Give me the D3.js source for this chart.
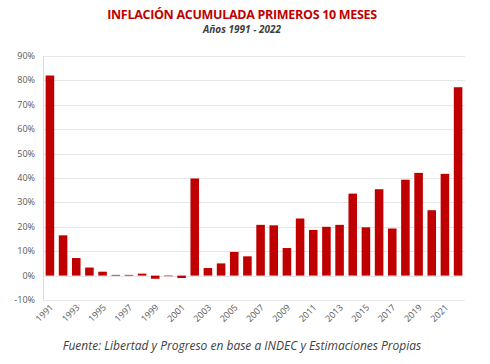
<!DOCTYPE html>
<html>
<head>
<meta charset="utf-8">
<script src="https://d3js.org/d3.v7.min.js"></script>
<style>
  body { margin: 0; background: #fff; }
  text { font-family: "Open Sans", sans-serif; }
</style>
</head>
<body>
<div id="chart"></div>
<script type="text/javascript">
var years = d3.range(1991, 2023).map(String);
var values = [82.0, 16.5, 7.2, 3.3, 1.6, 0.3, 0.3, 0.8, -1.3, -0.1, -1.0, 39.8,
              3.1, 5.0, 9.7, 7.9, 20.8, 20.6, 11.3, 23.4, 18.7, 20.0, 20.8, 33.6,
              19.8, 35.4, 19.3, 39.3, 42.1, 26.8, 41.7, 77.2];
var yTicks = [-10, 0, 10, 20, 30, 40, 50, 60, 70, 80, 90];
var xLabels = years.filter(function(d, i) { return i % 2 === 0; });

var w = 490, h = 364,
    padL = 43, padR = 465, padT = 56, padB = 300;

var svg = d3.select("#chart").append("svg")
    .attr("width", w)
    .attr("height", h);

var x = d3.scaleBand()
    .domain(years)
    .range([padL, padR])
    .paddingInner(0.35)
    .paddingOuter(0.2);

var y = d3.scaleLinear()
    .domain([-10, 90])
    .range([padB, padT]);

// grid
svg.append("g").selectAll("line")
    .data(yTicks)
  .enter().append("line")
    .attr("x1", padL)
    .attr("x2", padR)
    .attr("y1", function(d) { return Math.round(y(d)) + 0.5; })
    .attr("y2", function(d) { return Math.round(y(d)) + 0.5; })
    .style("stroke", "#e6e6e6")
    .style("stroke-width", 1);

svg.append("line")
    .attr("x1", padL + 0.5).attr("x2", padL + 0.5)
    .attr("y1", padT).attr("y2", padB)
    .style("stroke", "#d9d9d9");

// y labels
svg.append("g").selectAll("text")
    .data(yTicks)
  .enter().append("text")
    .attr("x", 35)
    .attr("y", function(d) { return y(d) + 3; })
    .attr("text-anchor", "end")
    .style("font-size", "9px")
    .style("fill", "#595959")
    .text(function(d) { return d + "%"; });

// bars
svg.append("g").selectAll("rect")
    .data(values)
  .enter().append("rect")
    .attr("x", function(d, i) { return x(years[i]); })
    .attr("width", x.bandwidth())
    .attr("y", function(d) { return y(Math.max(0, d)); })
    .attr("height", function(d) { return Math.max(0.6, Math.abs(y(d) - y(0))); })
    .style("fill", "#c00000");

// x labels
svg.append("g").selectAll("text")
    .data(xLabels)
  .enter().append("text")
    .attr("transform", function(d) {
      return "translate(" + (x(d) + x.bandwidth() / 2 + 4) + "," + 308 + ") rotate(-45)";
    })
    .attr("text-anchor", "end")
    .style("font-size", "9px")
    .style("fill", "#595959")
    .text(function(d) { return d; });

// titles
svg.append("text")
    .attr("x", 242).attr("y", 19)
    .attr("text-anchor", "middle")
    .style("font-size", "12.5px")
    .style("font-weight", "bold")
    .style("fill", "#c00000")
    .style("letter-spacing", "-0.3px")
    .text("INFLACIÓN ACUMULADA PRIMEROS 10 MESES");

svg.append("text")
    .attr("x", 242).attr("y", 33)
    .attr("text-anchor", "middle")
    .style("font-size", "10px")
    .style("font-weight", "bold")
    .style("font-style", "italic")
    .style("fill", "#404040")
    .text("Años 1991 - 2022");

svg.append("text")
    .attr("x", 242).attr("y", 350)
    .attr("text-anchor", "middle")
    .style("font-size", "12px")
    .style("font-style", "italic")
    .style("fill", "#404040")
    .text("Fuente: Libertad y Progreso en base a INDEC y Estimaciones Propias");
</script>
</body>
</html>
